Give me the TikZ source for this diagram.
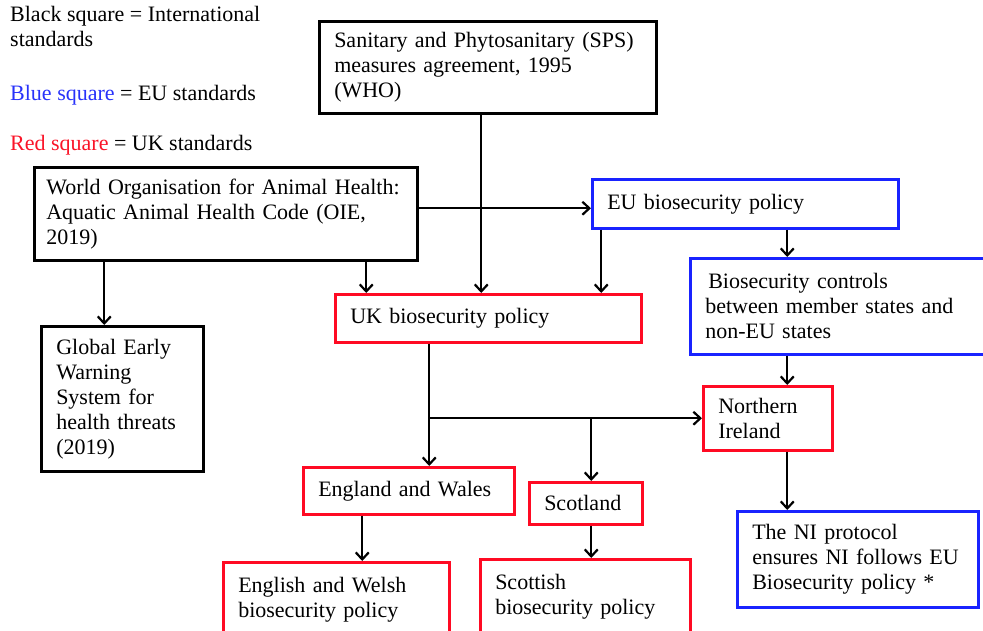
\documentclass[tikz,border=0pt]{standalone}
\usepackage{fontspec}
\setmainfont{Liberation Serif}
\usetikzlibrary{arrows.meta, positioning}
\definecolor{boxblue}{RGB}{25,35,255}
\definecolor{boxred}{RGB}{255,10,35}
\definecolor{legblue}{RGB}{40,50,250}
\definecolor{legred}{RGB}{250,20,40}

\begin{document}
\begin{tikzpicture}[x=1pt, y=-1pt,
        box/.style={draw, line width=2.5pt, anchor=north west, align=left, inner xsep=15pt, inner ysep=0pt, font=\fontsize{22}{25}\selectfont},
        intl/.style={box, draw=black},
        eubox/.style={box, draw=boxblue},
        ukbox/.style={box, draw=boxred},
        arr/.style={line width=2.2pt, -{Straight Barb[length=7pt, width=13pt]}},
        legtext/.style={anchor=west, align=left, inner sep=0pt, font=\fontsize{22}{25}\selectfont}]
        \useasboundingbox (0,0) rectangle (983,630);
        \clip (0,0) rectangle (983,630);

        % Key
        \node[legtext, anchor=north west] (legblack) at (10,6) {Black square = International\\standards};
        \node[legtext] (legblue) at (10,95) {\textcolor{legblue}{Blue square} = EU standards};
        \node[legtext] (legred) at (10,145) {\textcolor{legred}{Red square} = UK standards};

        % International standards
        \node[intl, text width=307pt, minimum height=92pt] (sps) at (318,20) {Sanitary and Phytosanitary (SPS)\\measures agreement, 1995\\(WHO)};
        \node[intl, text width=359pt, inner xsep=12pt, minimum height=93pt] (oie) at (33,166) {World Organisation for Animal Health:\\Aquatic Animal Health Code (OIE,\\2019)};
        \node[intl, text width=132pt, minimum height=145pt] (gews) at (40,325) {Global Early\\Warning\\System for\\health threats\\(2019)};

        % EU standards
        \node[eubox, text width=276pt, minimum height=49pt] (eu) at (591,178) {EU biosecurity policy};
        \node[eubox, text width=280pt, minimum height=96pt] (ctrl) at (689,257) {\hspace*{3pt}Biosecurity controls\\between member states and\\non-EU states};
        \node[eubox, text width=211pt, minimum height=96pt] (niprot) at (736,510) {The NI protocol\\ensures NI follows EU\\Biosecurity policy *};

        % UK standards
        \node[ukbox, text width=276pt, minimum height=48pt] (uk) at (334,293) {UK biosecurity policy};
        \node[ukbox, text width=99pt, minimum height=64pt] (ni) at (702,385) {Northern\\Ireland};
        \node[ukbox, text width=181pt, minimum height=47pt] (ew) at (302,466) {England and Wales};
        \node[ukbox, text width=83pt, minimum height=42pt] (scot) at (528,481) {Scotland};
        \node[ukbox, text width=196pt, minimum height=96pt] (ewpol) at (222,561) {English and Welsh\\biosecurity policy\\\mbox{}};
        \node[ukbox, text width=180pt, minimum height=96pt] (scotpol) at (479,558) {Scottish\\biosecurity policy\\\mbox{}};

        % Arrows
        \coordinate (spsout) at ([xshift=-6.5]sps.south);
        \coordinate (oieout) at ([yshift=5.5]oie.east);
        \coordinate (gewsin) at ([xshift=-18]gews.north);
        \coordinate (oiedown) at ([xshift=140.5]oie.south);
        \coordinate (euleft) at ([xshift=-144]eu.south);
        \coordinate (euright) at ([xshift=42]eu.south);
        \coordinate (niin) at ([xshift=19.5]ni.north);
        \coordinate (niout) at ([xshift=19.5]ni.south);
        \coordinate (ukout) at ([xshift=-59]uk.south);
        \coordinate (split) at (ukout |- ni.west);
        \coordinate (scotin) at ([xshift=5.5]scot.north);
        \coordinate (ewout) at ([xshift=-46.5]ew.south);

        \draw[arr] (spsout) -- (spsout |- uk.north);
        \draw[arr] (oieout) -- (oieout -| eu.west);
        \draw[arr] (oie.south -| gewsin) -- (gewsin);
        \draw[arr] (oiedown) -- (oiedown |- uk.north);
        \draw[arr] (euleft) -- (euleft |- uk.north);
        \draw[arr] (euright) -- (euright |- ctrl.north);
        \draw[arr] (niin |- ctrl.south) -- (niin);
        \draw[arr] (niout) -- (niout |- niprot.north);
        \draw[arr] (ukout) -- (ukout |- ew.north);
        \draw[arr] (split) -- (ni.west);
        \draw[arr] (split -| scotin) -- (scotin);
        \draw[arr] (ewout) -- (ewout |- ewpol.north);
        \draw[arr] (scot.south -| scotin) -- (scotin |- scotpol.north);
\end{tikzpicture}
\end{document}
